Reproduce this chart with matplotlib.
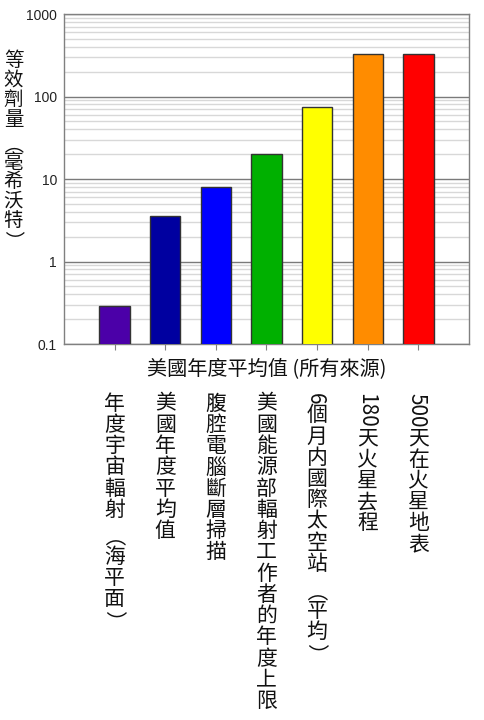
import matplotlib
matplotlib.use('Agg')
import matplotlib.pyplot as plt
import matplotlib.transforms as mtrans
from matplotlib.font_manager import FontProperties, findfont, get_font
from matplotlib.ticker import LogLocator, NullFormatter, FixedLocator, FixedFormatter

# ---- data ----
categories = ['年度宇宙輻射 （海平面）', '美國年度平均值', '腹腔電腦斷層掃描',
              '美國能源部輻射工作者的年度上限', '6個月内國際太空站 （平均）',
              '180天火星去程', '500天在火星地表']
values = [0.29, 3.6, 8.0, 20.0, 75.0, 330.0, 330.0]
colors = ['#4B00A8', '#0000A0', '#0000FF', '#00B000', '#FFFF00', '#FF8C00', '#FF0000']
xlabel = '美國年度平均值 (所有來源)'
ylabel = '等效劑量 （毫希沃特）'
yticks = [0.1, 1, 10, 100, 1000]
ytick_labels = ['0.1', '1', '10', '100', '1000']

CJK = ['Noto Sans CJK TC', 'DejaVu Sans']

fig = plt.figure(figsize=(4.85, 7.2), dpi=100)
ax = fig.add_axes([64/485, 1-344/720, (469-64)/485, (344-14)/720])

x = list(range(len(values)))
ax.bar(x, values, width=0.6, color=colors, edgecolor='#333333', linewidth=1, zorder=3)

ax.set_yscale('log')
ax.set_ylim(0.1, 1000)
ax.set_xlim(-1, len(values))
ax.yaxis.set_major_locator(FixedLocator(yticks))
ax.yaxis.set_major_formatter(FixedFormatter(ytick_labels))
ax.yaxis.set_minor_locator(LogLocator(base=10, subs=range(2, 10)))
ax.yaxis.set_minor_formatter(NullFormatter())
ax.tick_params(axis='y', which='both', length=0, pad=5, labelsize=10, labelcolor='#222222')
for t in ax.get_yticklabels():
    t.set_family(['Liberation Sans', 'DejaVu Sans'])
ax.set_xticks(x)
ax.set_xticklabels([''] * len(x))
ax.tick_params(axis='x', which='major', length=4, color='#808080', direction='out')

ax.set_axisbelow(True)
ax.grid(True, axis='y', which='major', color='#7a7a7a', linewidth=1)
ax.grid(True, axis='y', which='minor', color='#d8d8d8', linewidth=1)
for sp in ax.spines.values():
    sp.set_color('#808080')
    sp.set_linewidth(1)

ax.set_xlabel(xlabel, fontsize=14.5, family=CJK, labelpad=3, color='#111111')

cjk_font = get_font(findfont(FontProperties(family='Noto Sans CJK TC')))


def advance(ch, fontsize):
    cjk_font.set_size(fontsize, 72)
    g = cjk_font.load_char(ord(ch))
    return g.linearHoriAdvance / 65536.0


def vtext(s, xy, xycoords, fontsize, em_adv=1.0):
    """Vertical writing: ideographs upright, other runs rotated clockwise."""
    prop = FontProperties(family=CJK, size=fontsize)
    runs = []
    for ch in s:
        up = 0x4E00 <= ord(ch) <= 0x9FFF
        if up:
            runs.append((ch, True))
        elif runs and not runs[-1][1]:
            runs[-1] = (runs[-1][0] + ch, False)
        else:
            runs.append((ch, False))
    cum = 0.0
    for run, up in runs:
        if up:
            adv = fontsize * em_adv
            ax.annotate(run, xy=xy, xycoords=xycoords, xytext=(0, -(cum + adv / 2)),
                        textcoords='offset points', ha='center', va='center',
                        fontproperties=prop, annotation_clip=False, color='#111111')
        else:
            adv = sum(advance(c, fontsize) for c in run)
            ax.annotate(run, xy=xy, xycoords=xycoords,
                        xytext=(-0.38 * fontsize, -cum),
                        textcoords='offset points', ha='left', va='baseline',
                        rotation=-90, rotation_mode='anchor',
                        fontproperties=prop, annotation_clip=False, color='#111111')
        cum += adv


blend = mtrans.blended_transform_factory(ax.transData, fig.transFigure)
for i, lab in enumerate(categories):
    vtext(lab, (x[i], 1 - 393/720), blend, 15, em_adv=1.02)

vtext(ylabel, (13.5/485, 1 - 51/720), fig.transFigure, 14, em_adv=1.0)

fig.savefig('out.png', dpi=100)
